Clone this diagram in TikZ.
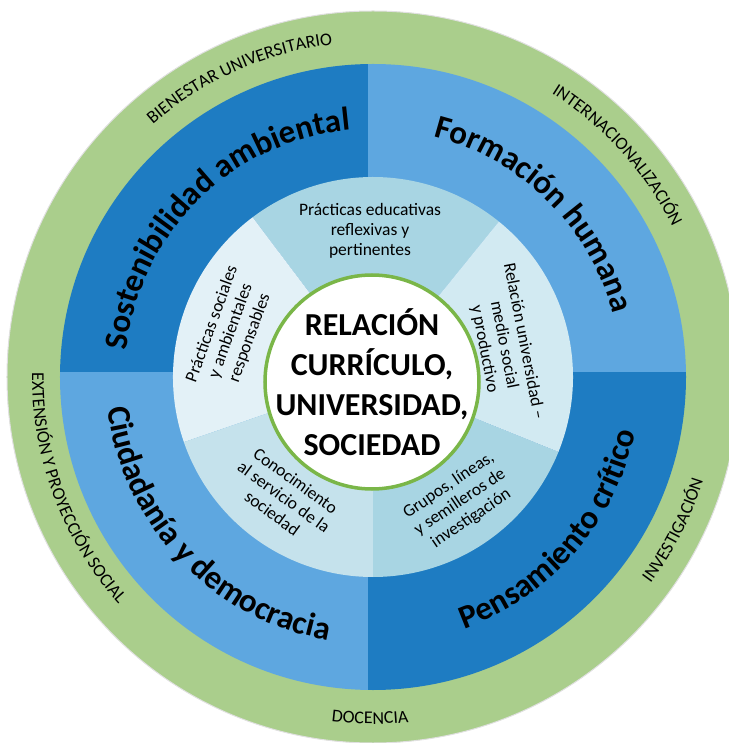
\documentclass[tikz,border=0pt]{standalone}
\usepackage{fontspec}
\setmainfont{Carlito}
\usetikzlibrary{decorations.text}
\definecolor{rimgreen}{RGB}{170,206,140}
\definecolor{quaddark}{RGB}{30,124,194}
\definecolor{quadlight}{RGB}{94,167,224}
\definecolor{segmid}{RGB}{168,213,227}
\definecolor{segpale}{RGB}{227,241,247}
\definecolor{seglight}{RGB}{197,226,236}
\definecolor{segsoft}{RGB}{210,234,242}
\definecolor{coregreen}{RGB}{122,182,72}
\newcommand{\quadfont}{\bfseries\fontsize{33}{33}\selectfont}
\newcommand{\rimfont}{\fontsize{18}{18}\selectfont}
\tikzset{
    quad-label/.style = {decorate, decoration={text along path, text align=center, text={|\quadfont|#1}}},
    rim-label/.style = {decorate, decoration={text along path, text align=center, text={|\rimfont|#1}}},
    seg-text/.style = {align=center, inner sep=0pt, font=\fontsize{17.5}{20}\selectfont},
    core-text/.style = {align=center, inner sep=0pt, font=\bfseries\fontsize{32}{40}\selectfont},
}

\begin{document}
\begin{tikzpicture}[x=1pt, y=1pt]
\useasboundingbox (-373,-366) rectangle (355,377);

\fill[rimgreen, draw=black!12, line width=1pt] (0,0) circle[radius=366pt];
\begin{scope}
\clip (0,0) circle[radius=313pt];
\fill[quaddark] (-5,5) rectangle (-330,330);
\fill[quadlight] (-5,5) rectangle (330,330);
\fill[quadlight] (-5,5) rectangle (-330,-330);
\fill[quaddark] (-5,5) rectangle (330,-330);
\end{scope}

\fill[segmid] (0,0) -- (51:200) arc[start angle=51, end angle=127, radius=200pt] -- cycle;
\fill[segpale] (0,0) -- (127:200) arc[start angle=127, end angle=199, radius=200pt] -- cycle;
\fill[seglight] (0,0) -- (199:200) arc[start angle=199, end angle=270, radius=200pt] -- cycle;
\fill[segmid] (0,0) -- (270:200) arc[start angle=270, end angle=338, radius=200pt] -- cycle;
\fill[segsoft] (0,0) -- (338:200) arc[start angle=338, end angle=411, radius=200pt] -- cycle;

\draw[coregreen, fill=white, line width=3.5pt] (-1,-5) circle[radius=107pt];
\node[core-text] (core) at (-1,-5) {RELACIÓN\\CURRÍCULO,\\UNIVERSIDAD,\\SOCIEDAD};

\node[seg-text] (educativas) at (-3,146) {Prácticas educativas\\reflexivas y\\pertinentes};
\node[seg-text, rotate=70] (sociales) at (-142,46) {Prácticas sociales\\y ambientales\\responsables};
\node[seg-text, rotate=-79] (medio) at (131,32) {Relación universidad –\\medio social\\y productivo};
\node[seg-text, rotate=-36] (servicio) at (-89,-120) {Conocimiento\\al servicio de la\\sociedad};
\node[seg-text, rotate=34] (grupos) at (87,-125) {Grupos, líneas,\\y semilleros de\\investigación};

\path[quad-label={Sostenibilidad ambiental}] (184.5:248) arc[start angle=184.5, end angle=84.5, radius=248pt];
\path[quad-label={Formación humana}] (95.3:248) arc[start angle=95.3, end angle=-4.7, radius=248pt];
\path[quad-label={Pensamiento crítico}] (-91:268) arc[start angle=-91, end angle=9, radius=268pt];
\path[quad-label={Ciudadanía y democracia}] (173.5:267) arc[start angle=173.5, end angle=273.5, radius=267pt];

\path[rim-label={BIENESTAR UNIVERSITARIO}] (144:335) arc[start angle=144, end angle=84, radius=335pt];
\path[rim-label={INTERNACIONALIZACIÓN}] (72.2:335) arc[start angle=72.2, end angle=12.2, radius=335pt];
\path[rim-label={INVESTIGACIÓN}] (-57:346) arc[start angle=-57, end angle=3, radius=346pt];
\path[rim-label={DOCENCIA}] (-120.5:347) arc[start angle=-120.5, end angle=-60.5, radius=347pt];
\path[rim-label={EXTENSIÓN Y PROYECCIÓN SOCIAL}] (170.5:341) arc[start angle=170.5, end angle=230.5, radius=341pt];
\end{tikzpicture}
\end{document}
